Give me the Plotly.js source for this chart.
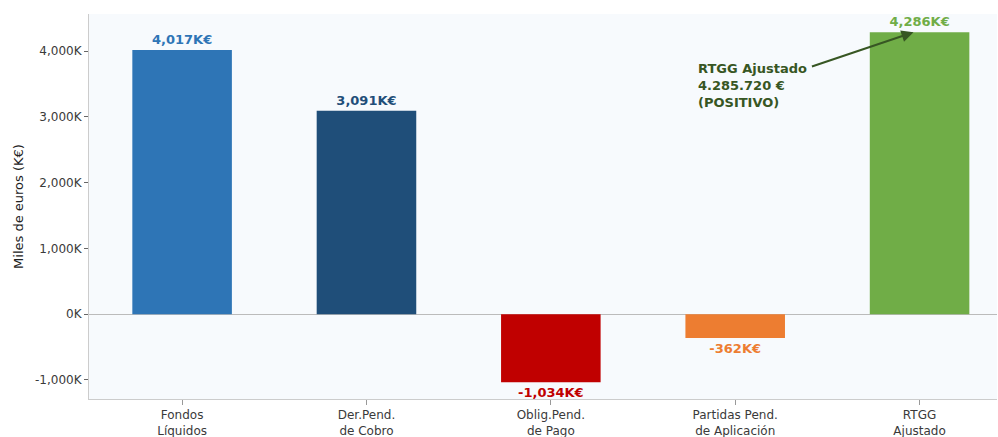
<!DOCTYPE html>
<html><head><meta charset="utf-8">
<script src="https://cdn.plot.ly/plotly-3.0.1.min.js"></script>
<style>html,body{margin:0;padding:0;background:#fff}#c{width:998px;height:437px}</style>
</head><body><div id="c"></div>
<script>
const categories = ["Fondos<br>Líquidos","Der.Pend.<br>de Cobro","Oblig.Pend.<br>de Pago","Partidas Pend.<br>de Aplicación","RTGG<br>Ajustado"];
const values = [4017, 3091, -1034, -362, 4286];
const barColors = ["#2E75B6","#1F4E79","#C00000","#ED7D31","#70AD47"];
const yTickVals = [-1000, 0, 1000, 2000, 3000, 4000];
const yTickText = ["-1,000K","0K","1,000K","2,000K","3,000K","4,000K"];
const noteText = "RTGG Ajustado<br>4.285.720 €<br>(POSITIVO)";

const fmt = v => v.toLocaleString('en-US') + 'K€';
const xs = categories.map((c,i)=>i);

const trace = {
  type:'bar', x: xs, y: values, width: 0.54,
  marker:{color: barColors, line:{width:0}},
  text: values.map(fmt), textposition:'outside', cliponaxis:false,
  textfont:{family:'DejaVu Sans', size:13, color: barColors, weight:'bold'},
  hoverinfo:'none'
};

const layout = {
  width:998, height:437,
  margin:{l:89, r:1, t:14, b:38},
  paper_bgcolor:'#ffffff', plot_bgcolor:'#f7fafd',
  font:{family:'DejaVu Sans', color:'#333333', size:12},
  showlegend:false,
  xaxis:{range:[-0.505,4.42], tickvals:xs, ticktext:categories, showgrid:false, zeroline:false,
    showline:true, linecolor:'#cccccc', linewidth:1, ticks:'outside', ticklen:5, tickcolor:'#999999',
    tickfont:{size:12, color:'#3a3a3a'}},
  yaxis:{range:[-1289,4563], tickvals:yTickVals, ticktext:yTickText, showgrid:false,
    zeroline:true, zerolinecolor:'#bbbbbb', zerolinewidth:1.2,
    showline:true, linecolor:'#cccccc', linewidth:1, ticks:'outside', ticklen:4, tickcolor:'#666666',
    tickfont:{size:12, color:'#3a3a3a'},
    title:{text:'Miles de euros (K€)', font:{size:13, color:'#222222'}, standoff:8}},
  annotations:[
    {x:values.length-1-0.033, y:values[4], xref:'x', yref:'y', text:'', showarrow:true,
     ax:3.408, ay:3757, axref:'x', ayref:'y', arrowhead:2, arrowsize:1.2, arrowwidth:2, arrowcolor:'#375623'},
    {x:2.79, y:3885, xref:'x', yref:'y', text:'<b>'+noteText+'</b>', showarrow:false,
     xanchor:'left', yanchor:'top', align:'left', font:{size:13, color:'#375623', family:'DejaVu Sans'}}
  ]
};
Plotly.newPlot('c',[trace],layout,{displayModeBar:false, staticPlot:true});
</script></body></html>
